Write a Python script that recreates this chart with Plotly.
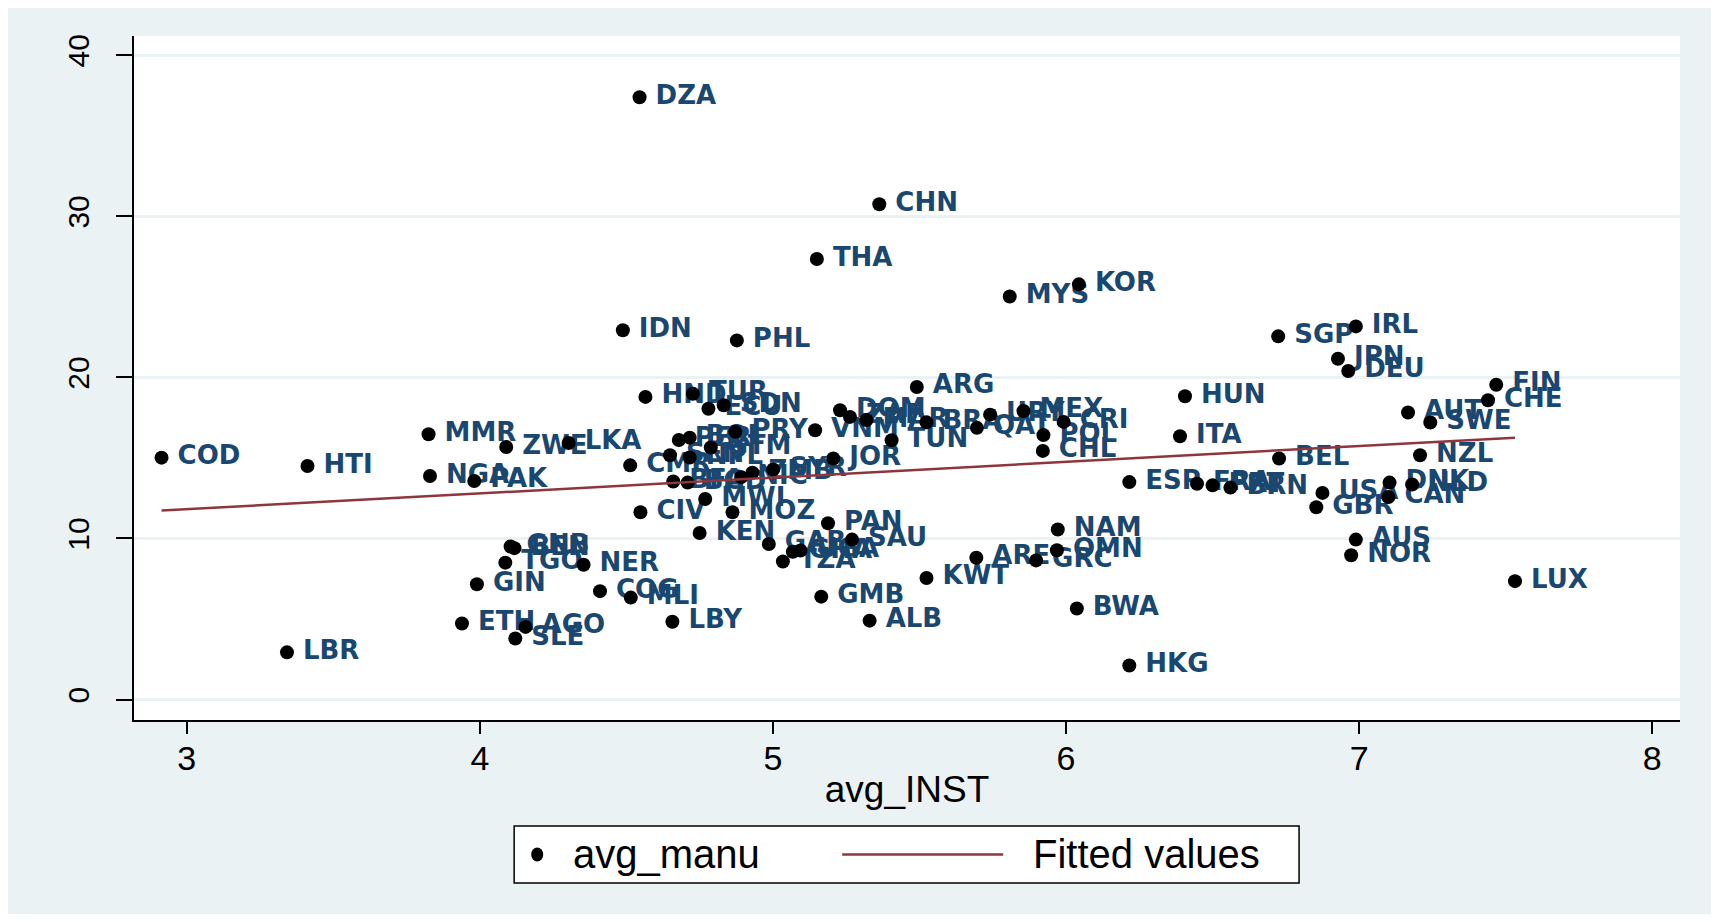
import numpy as np
import plotly.graph_objects as go

countries = ["DZA", "CHN", "THA", "KOR", "MYS", "IDN", "PHL", "SGP", "IRL", "JPN",
             "DEU", "FIN", "CHE", "AUT", "SWE", "NZL", "HUN", "ITA", "BEL", "ESP",
             "FRA", "PRT", "BRN", "USA", "GBR", "DNK", "NLD", "CAN", "AUS", "NOR",
             "LUX", "ARG", "URY", "MEX", "QAT", "CRI", "POL", "CHL", "NAM", "OMN",
             "ARE", "GRC", "TUN", "HND", "TUR", "ECU", "SDN", "PRY", "VNM", "PER",
             "BOL", "GTM", "SEN", "NPL", "CMR", "BFA", "BGD", "NIC", "ZMB", "SYR",
             "JOR", "DOM", "ZAF", "MAR", "BRA", "MWI", "CIV", "MOZ", "KEN", "PAN",
             "SAU", "GAB", "TZA", "GHA", "UGA", "GMB", "ALB", "KWT", "BWA", "HKG",
             "MMR", "ZWE", "LKA", "NGA", "PAK", "HTI", "COD", "LBR", "GIN", "ETH",
             "AGO", "SLE", "COG", "MLI", "LBY", "NER", "TGO", "GNB", "BEN"]

avg_inst = [4.545, 5.363, 5.150, 6.044, 5.808, 4.488, 4.877, 6.724, 6.989, 6.928,
            6.963, 7.468, 7.440, 7.167, 7.243, 7.208, 6.406, 6.389, 6.727, 6.216,
            6.447, 6.500, 6.561, 6.875, 6.854, 7.104, 7.181, 7.100, 6.989, 6.973,
            7.532, 5.491, 5.741, 5.855, 5.696, 5.992, 5.923, 5.921, 5.972, 5.969,
            5.694, 5.898, 5.405, 4.565, 4.727, 4.780, 4.832, 4.872, 5.144, 4.679,
            4.716, 4.788, 4.649, 4.716, 4.513, 4.660, 4.709, 4.892, 4.930, 5.001,
            5.206, 5.229, 5.263, 5.319, 5.524, 4.769, 4.548, 4.862, 4.750, 5.188,
            5.270, 4.986, 5.034, 5.068, 5.094, 5.165, 5.330, 5.524, 6.037, 6.216,
            3.825, 4.090, 4.303, 3.830, 3.981, 3.412, 2.914, 3.342, 3.990, 3.939,
            4.156, 4.121, 4.410, 4.515, 4.657, 4.354, 4.087, 4.105, 4.118]

avg_manu = [37.40, 30.75, 27.35, 25.78, 25.03, 22.93, 22.30, 22.55, 23.17, 21.16,
            20.40, 19.55, 18.58, 17.82, 17.20, 15.17, 18.83, 16.35, 14.97, 13.50,
            13.40, 13.30, 13.16, 12.83, 11.94, 13.47, 13.35, 12.58, 9.93, 8.96,
            7.35, 19.41, 17.69, 17.92, 16.87, 17.24, 16.42, 15.44, 10.56, 9.27,
            8.80, 8.64, 16.10, 18.79, 18.99, 18.06, 18.27, 16.62, 16.72, 16.12,
            16.26, 15.65, 15.17, 15.03, 14.54, 13.54, 13.47, 13.81, 14.08, 14.29,
            14.97, 17.96, 17.55, 17.35, 17.21, 12.45, 11.63, 11.63, 10.34, 10.95,
            9.93, 9.66, 8.57, 9.18, 9.25, 6.39, 4.90, 7.55, 5.65, 2.11,
            16.47, 15.68, 15.93, 13.88, 13.57, 14.50, 15.02, 2.93, 7.16, 4.72,
            4.51, 3.79, 6.73, 6.33, 4.83, 8.37, 8.50, 9.50, 9.40]

x_ticks = [3, 4, 5, 6, 7, 8]
y_ticks = [0, 10, 20, 30, 40]

# linear fit (Stata lfit)
slope, intercept = np.polyfit(avg_inst, avg_manu, 1)
fit_x = [min(avg_inst), max(avg_inst)]
fit_y = [intercept + slope * v for v in fit_x]

NAVY = "#1A476F"
MAROON = "#90353B"
BG = "#EAF2F3"
FONT = "Liberation Sans, Arial, sans-serif"
LABEL_FONT = "DejaVu Sans, Verdana, sans-serif"

fig = go.Figure()

# labels (transparent wider marker only to set the gap between dot and label)
fig.add_trace(go.Scatter(
    x=avg_inst, y=avg_manu, text=countries, mode="markers+text",
    textposition="middle right",
    marker=dict(size=24, color="rgba(0,0,0,0)"),
    textfont=dict(family=LABEL_FONT, size=26, color=NAVY, weight="bold"),
    hoverinfo="skip", showlegend=False, cliponaxis=False,
))
# points
fig.add_trace(go.Scatter(
    x=avg_inst, y=avg_manu, mode="markers", name="avg_manu",
    marker=dict(size=14, color="black"),
    text=countries, showlegend=False,
))
# fitted line
fig.add_trace(go.Scatter(
    x=fit_x, y=fit_y, mode="lines", name="Fitted values",
    line=dict(color=MAROON, width=2.5), showlegend=False,
))

# Stata-style legend box below the plot
lx0, lx1, ly0, ly1 = 0.2459, 0.7536, -0.2382, -0.1549
ly = (ly0 + ly1) / 2
shapes = [
    dict(type="rect", xref="paper", yref="paper", x0=lx0, x1=lx1, y0=ly0, y1=ly1,
         line=dict(color="black", width=1.5), fillcolor="white", layer="above"),
    dict(type="circle", xref="paper", yref="paper", xsizemode="pixel", ysizemode="pixel",
         xanchor=0.2608, yanchor=ly, x0=-6, x1=6, y0=-7, y1=7,
         fillcolor="black", line=dict(color="black", width=0), layer="above"),
    dict(type="line", xref="paper", yref="paper", x0=0.4581, x1=0.5622, y0=ly, y1=ly,
         line=dict(color=MAROON, width=2.5), layer="above"),
]
annotations = [
    dict(text="avg_manu", xref="paper", yref="paper", x=0.2828, y=ly,
         xanchor="left", yanchor="middle", showarrow=False,
         font=dict(family=FONT, size=40, color="black")),
    dict(text="Fitted values", xref="paper", yref="paper", x=0.5803, y=ly,
         xanchor="left", yanchor="middle", showarrow=False,
         font=dict(family=FONT, size=40, color="black")),
]

fig.update_layout(
    width=1703, height=906,
    margin=dict(l=126, r=31, t=28, b=194),
    paper_bgcolor=BG, plot_bgcolor="white",
    font=dict(family=FONT, color="black"),
    showlegend=False,
    shapes=shapes, annotations=annotations,
)
fig.update_xaxes(
    range=[2.82, 8.095], tickmode="array", tickvals=x_ticks,
    ticktext=[str(t) for t in x_ticks],
    showgrid=False, zeroline=False,
    showline=True, linecolor="black", linewidth=2,
    ticks="outside", ticklen=12, tickwidth=1.5, tickcolor="black",
    tickfont=dict(size=34), ticklabelstandoff=-5,
    title=dict(text="avg_INST", font=dict(size=37), standoff=0),
)
fig.update_yaxes(
    range=[-1.27, 41.2], tickmode="array", tickvals=y_ticks,
    ticktext=[str(t) for t in y_ticks],
    showgrid=True, gridcolor=BG, gridwidth=2.5, zeroline=False,
    showline=True, linecolor="black", linewidth=2,
    ticks="outside", ticklen=16, tickwidth=1.5, tickcolor="black",
    tickangle=-90, tickfont=dict(size=30), ticklabelstandoff=15,
)

fig.write_html("out.html")
